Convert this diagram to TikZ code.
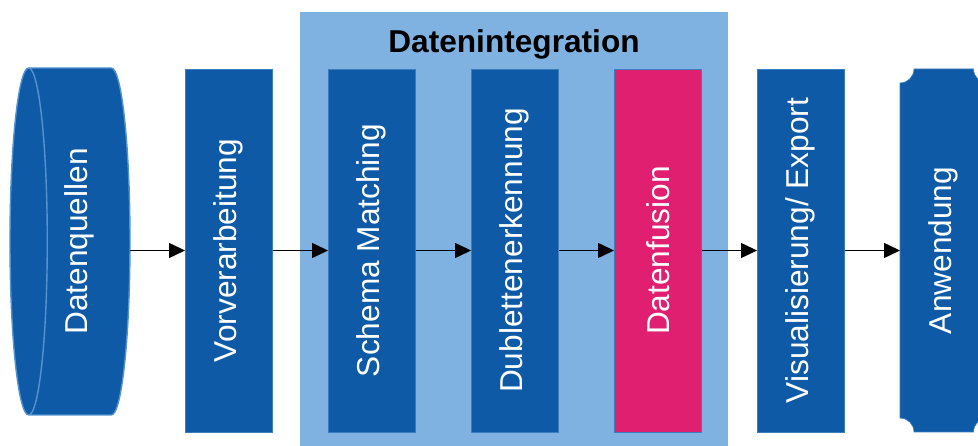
\documentclass[tikz,border=0pt]{standalone}
\usepackage{fontspec}
\setmainfont{Liberation Sans}
\usetikzlibrary{
  arrows.meta,
  positioning,
  shapes.geometric,
  fit,
  backgrounds,
  calc
}
\definecolor{stepblue}{HTML}{0F5AA6}
\definecolor{stepedge}{HTML}{3C7DC0}
\definecolor{cylline}{HTML}{5593CF}
\definecolor{integbg}{HTML}{7FB2E1}
\definecolor{fusionpink}{HTML}{E01F70}
\newcommand{\uptext}[1]{\rotatebox{90}{#1}}
\tikzset{
  stepbox/.style={
    rectangle, draw=stepedge, fill=#1, line width=0.4pt,
    minimum width=1.75cm, minimum height=7.26cm,
    inner sep=0pt, outer sep=0pt,
    text=white, font=\fontsize{18}{21.6}\selectfont
  },
  stepbox/.default=stepblue,
  srcbox/.style={
    cylinder, shape border rotate=180, aspect=0.2,
    draw=cylline, line width=0.8pt,
    cylinder uses custom fill, cylinder body fill=stepblue,
    cylinder end fill=stepblue,
    minimum height=2.4cm, minimum width=6.94cm,
    inner sep=0pt, outer sep=0pt,
    text=white, font=\fontsize{18}{21.6}\selectfont
  },
  appbox/.style={
    rectangle, minimum width=1.75cm, minimum height=7.26cm,
    inner sep=0pt, outer sep=0pt,
    text=white, font=\fontsize{18}{21.6}\selectfont
  },
  intgrp/.style={
    rectangle, fill=integbg, inner sep=0pt, outer sep=0pt
  },
  flow/.style={
    -{Triangle[length=0.32cm,width=0.3cm]}, line width=0.85pt, color=black
  },
}

\begin{document}
\begin{tikzpicture}[node distance=1.11cm]
  \useasboundingbox (0,0) rectangle (19.56,8.92);

  %% ── Sources and preprocessing ─────────────────────────────────────────────
  \node[stepbox] (vorv) at (4.575,3.91) {\uptext{Vorverarbeitung}};
  \node[srcbox, left=1.1cm of vorv, yshift=0.18cm] (quellen) {\uptext{Datenquellen}};

  %% ── Integration group ─────────────────────────────────────────────────────
  \node[stepbox, right=of vorv]     (schema)   {\uptext{Schema Matching}};
  \node[stepbox, right=of schema]   (dublette) {\uptext{Dublettenerkennung}};
  \node[stepbox=fusionpink, right=of dublette] (fusion) {\uptext{Datenfusion}};

  \coordinate (intsw) at ($(schema.south west)+(-0.56,-0.28)$);
  \coordinate (intne) at ($(fusion.north east)+(0.53,1.14)$);
  \begin{scope}[on background layer]
    \node[intgrp, fit=(intsw)(intne)] (intgrp) {};
  \end{scope}
  \node[font=\bfseries\fontsize{18}{21.6}\selectfont, anchor=base]
    (inttitle) at ($(intgrp.north)+(0,-0.82)$) {Datenintegration};

  %% ── Output ────────────────────────────────────────────────────────────────
  \node[stepbox, right=of fusion] (vis) {\uptext{Visualisierung/ Export}};
  \node[appbox, right=of vis]     (anw) {\uptext{Anwendung}};
  % notched card behind the label
  \begin{scope}[on background layer]
    \clip (0,0) rectangle (19.56,8.92);
    \filldraw[fill=stepblue, draw=stepedge, line width=0.4pt]
      ($(anw.north west)+(0,-0.28)$) arc[start angle=270, end angle=360, radius=0.28]
      -- ($(anw.north east)+(-0.28,0)$) arc[start angle=180, end angle=270, radius=0.28]
      -- ($(anw.south east)+(0,0.28)$) arc[start angle=90, end angle=180, radius=0.28]
      -- ($(anw.south west)+(0.28,0)$) arc[start angle=0, end angle=90, radius=0.28]
      -- cycle;
  \end{scope}

  %% ── Arrows ────────────────────────────────────────────────────────────────
  \draw[flow] (quellen.east |- vorv.west) -- (vorv.west);
  \draw[flow] (vorv)     -- (schema);
  \draw[flow] (schema)   -- (dublette);
  \draw[flow] (dublette) -- (fusion);
  \draw[flow] (fusion)   -- (vis);
  \draw[flow] (vis)      -- (anw);

\end{tikzpicture}
\end{document}
